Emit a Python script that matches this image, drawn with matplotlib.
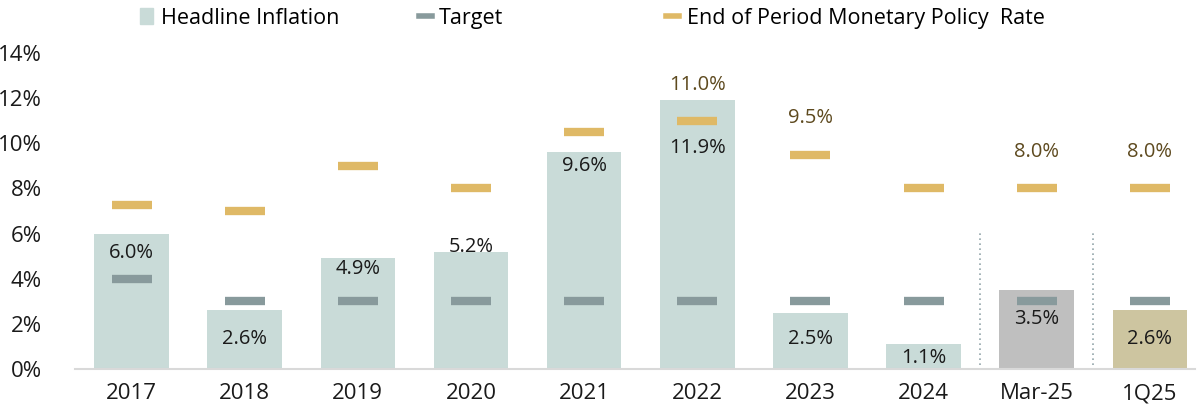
import matplotlib.pyplot as plt
from matplotlib.patches import Patch
from matplotlib.lines import Line2D

plt.rcParams['font.family'] = ['Open Sans', 'DejaVu Sans']

periods = ["2017", "2018", "2019", "2020", "2021", "2022", "2023", "2024", "Mar-25", "1Q25"]
inflation = [6.0, 2.6, 4.9, 5.2, 9.6, 11.9, 2.5, 1.1, 3.5, 2.6]
target = [4.0, 3.0, 3.0, 3.0, 3.0, 3.0, 3.0, 3.0, 3.0, 3.0]
policy_rate = [7.25, 7.0, 9.0, 8.0, 10.5, 11.0, 9.5, 8.0, 8.0, 8.0]
# which policy rates get a value label
policy_labelled = ["2022", "2023", "Mar-25", "1Q25"]

# label placement (offset from bar top, in % points) - set by eye
infl_label_off = [-0.85, -1.25, -0.45, 0.2, -0.6, -2.1, -1.15, -0.6, -1.3, -1.28]

bar_colors = ["#c9dbd8"] * 8 + ["#bfbfbf", "#cdc5a0"]
target_color = "#889a9c"
policy_color = "#dfb966"

fig = plt.figure(figsize=(11.98, 4.19), dpi=100)
ax = fig.add_axes([0.0626, 0.119, 0.935, 0.7545])

x = list(range(len(periods)))
ax.bar(x, inflation, width=0.66, color=bar_colors, zorder=1)
ax.plot(x, target, linestyle="none", marker="_", markersize=29, mew=6,
        color=target_color, zorder=3)
ax.plot(x, policy_rate, linestyle="none", marker="_", markersize=29, mew=6,
        color=policy_color, zorder=3)

for i, v in enumerate(inflation):
    ax.text(x[i], v + infl_label_off[i], f"{v:.1f}%", ha="center", va="center",
            fontsize=14.5, color="#1a1a1a", zorder=4)

for i, v in enumerate(policy_rate):
    if periods[i] in policy_labelled:
        ax.text(x[i], v + 1.6, f"{v:.1f}%", ha="center", va="center",
                fontsize=14.5, color="#5e4a1f", zorder=4)

# separators for the latest periods
ax.vlines([7.5, 8.5], 0.2, 6.05, colors="#93a5aa", linestyles=(0, (1, 2)), linewidth=1.2)

ax.set_xlim(-0.5, 9.4)
ax.set_ylim(0, 14)
ax.set_yticks(range(0, 15, 2))
ax.set_yticklabels([f"{t}%" for t in range(0, 15, 2)])
ax.set_xticks(x)
ax.set_xticklabels(periods)
ax.tick_params(axis="both", length=0, labelsize=16, colors="#1a1a1a")
ax.tick_params(axis="y", pad=24)
ax.tick_params(axis="x", pad=10)
for s in ["top", "right", "left"]:
    ax.spines[s].set_visible(False)
ax.spines["bottom"].set_color("#d9d9d9")
ax.spines["bottom"].set_linewidth(1.5)

# legend: Excel-style uneven column placement, so two legends
leg_kw = dict(frameon=False, fontsize=15.5, handlelength=0.6, handletextpad=0.35,
              borderpad=0, borderaxespad=0)
fig.legend([Patch(color="#c9dbd8"), Line2D([], [], color=target_color, linewidth=4)],
           ["Headline Inflation", "Target"], loc="center left",
           bbox_to_anchor=(0.117, 0.957), ncol=2, columnspacing=3.7, **leg_kw)
fig.legend([Line2D([], [], color=policy_color, linewidth=4)],
           ["End of Period Monetary Policy  Rate"], loc="center left",
           bbox_to_anchor=(0.556, 0.957), **leg_kw)

fig.savefig("out.png", dpi=100)
